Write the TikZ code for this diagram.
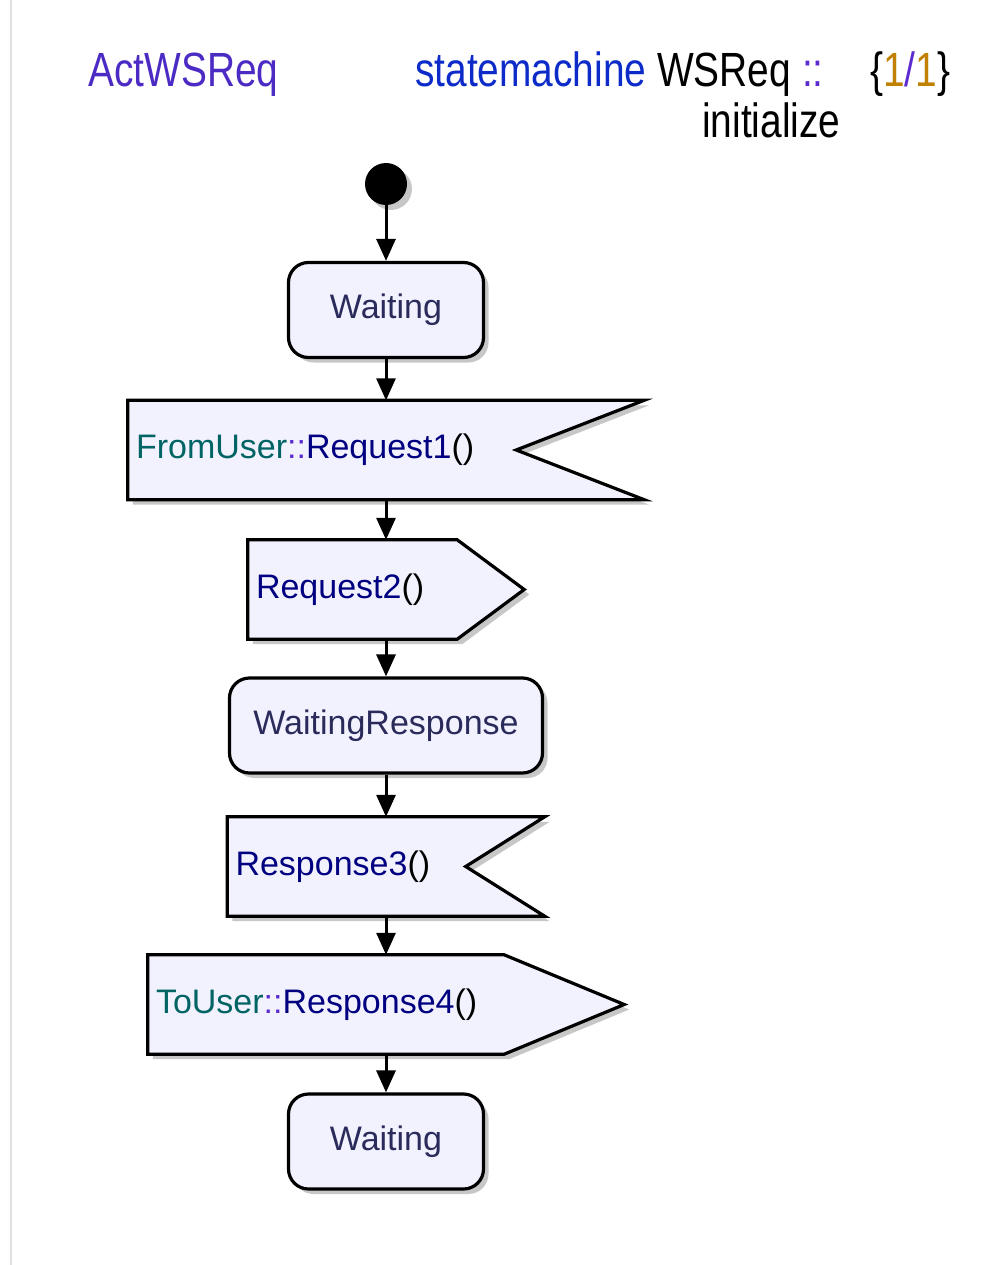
\documentclass[tikz,border=0pt]{standalone}
\usepackage{fontspec}
\setmainfont{Liberation Sans}
\newfontfamily\headfont[FakeStretch=0.81]{Liberation Sans}
\usetikzlibrary{arrows.meta,calc,shadows}

\definecolor{statefill}{HTML}{F2F2FE}
\definecolor{statetext}{HTML}{2B2B5B}
\definecolor{kwblue}{HTML}{0D2BC8}
\definecolor{actpurple}{HTML}{4B2BC4}
\definecolor{seppurple}{HTML}{5B2BD0}
\definecolor{numgold}{HTML}{C08000}
\definecolor{ifteal}{HTML}{006464}
\definecolor{signavy}{HTML}{000080}

\pgfdeclarelayer{background}
\pgfsetlayers{background,main}

\tikzset{
  myshadow/.style={drop shadow={fill=black!22, opacity=1, shadow xshift=5pt, shadow yshift=-5pt}},
  statebox/.style={draw, line width=3.2pt, fill=statefill, rounded corners=20pt, myshadow,
    minimum height=95pt, font=\fontsize{34}{40}\selectfont, text=statetext},
  sigbox/.style={inner xsep=8pt, inner ysep=0pt, align=left, minimum height=99pt,
    font=\fontsize{34}{40}\selectfont},
  sigline/.style={draw, line width=3.2pt, fill=statefill, myshadow, line join=miter},
  flow/.style={line width=3pt, -{Triangle[length=22pt,width=19pt]}},
  headtext/.style={anchor=base west, inner sep=0pt, font=\headfont\fontsize{48}{52}\selectfont},
}

\begin{document}
\begin{tikzpicture}[x=1pt,y=-1pt]
  \useasboundingbox (0,0) rectangle (987,1265);
  \draw[black!12, line width=1.5pt] (11,0) -- (11,1265);

  % header
  \node[headtext, text=actpurple] (title) at (88,87) {ActWSReq};
  \node[headtext] (machine) at (415,87) {\color{kwblue}statemachine \color{black}WSReq \color{seppurple}::};
  \node[headtext] (count) at (870,87) {\{\color{numgold}1\color{seppurple}/\color{numgold}1\color{black}\}};
  \node[headtext] (transname) at (702,138) {initialize};

  % states and signals
  \node[circle, fill=black, minimum size=42pt, inner sep=0pt, myshadow] (start) at (386,184) {};
  \node[statebox, minimum width=195pt] (wait1) at (386,310) {Waiting};
  \node[sigbox, text width=500pt] (req1) at (386,450)
    {\color{ifteal}FromUser\color{seppurple}::\color{signavy}Request1\color{black}()};
  \node[sigbox, text width=260pt] (req2) at (386,589.5)
    {\color{signavy}Request2\color{black}()};
  \node[statebox, minimum width=313pt] (waitresp) at (386,725.5) {WaitingResponse};
  \node[sigbox, text width=301pt] (resp3) at (386,866.5)
    {\color{signavy}Response3\color{black}()};
  \node[sigbox, text width=460pt] (resp4) at (386,1004.5)
    {\color{ifteal}ToUser\color{seppurple}::\color{signavy}Response4\color{black}()};
  \node[statebox, minimum width=195pt] (wait2) at (386,1141.5) {Waiting};

  % signal outlines
  \begin{pgfonlayer}{background}
    \draw[sigline] (req1.north west) -- (req1.north east) -- ($(req1.east)+(-128,0)$)
      -- (req1.south east) -- (req1.south west) -- cycle;
    \draw[sigline] (req2.north west) -- ($(req2.north east)+(-67,0)$) -- (req2.east)
      -- ($(req2.south east)+(-67,0)$) -- (req2.south west) -- cycle;
    \draw[sigline] (resp3.north west) -- (resp3.north east) -- ($(resp3.east)+(-79,0)$)
      -- (resp3.south east) -- (resp3.south west) -- cycle;
    \draw[sigline] (resp4.north west) -- ($(resp4.north east)+(-120,0)$) -- (resp4.east)
      -- ($(resp4.south east)+(-120,0)$) -- (resp4.south west) -- cycle;
  \end{pgfonlayer}

  % transitions
  \draw[flow] (start) -- (wait1);
  \draw[flow] (wait1) -- (req1);
  \draw[flow] (req1) -- (req2);
  \draw[flow] (req2) -- (waitresp);
  \draw[flow] (waitresp) -- (resp3);
  \draw[flow] (resp3) -- (resp4);
  \draw[flow] (resp4) -- (wait2);
\end{tikzpicture}
\end{document}
